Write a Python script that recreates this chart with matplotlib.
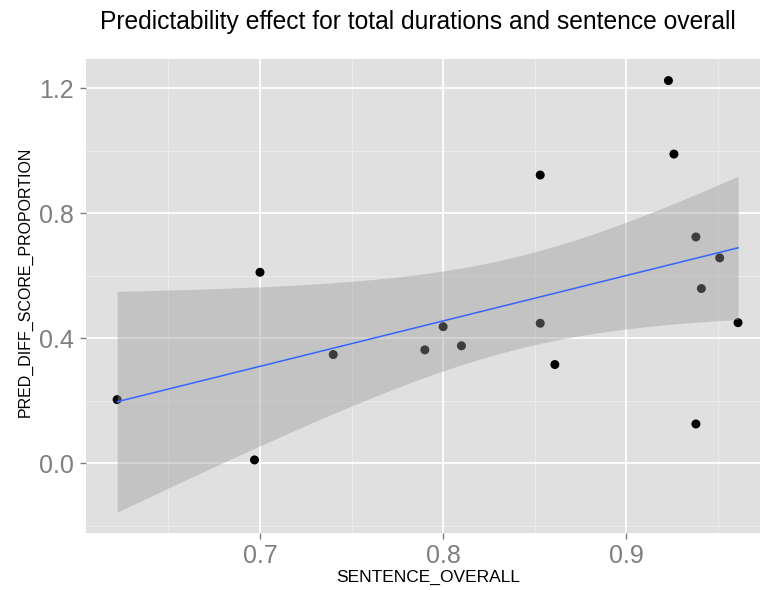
import numpy as np
import matplotlib
matplotlib.use("Agg")
import matplotlib.pyplot as plt

# sentence-level scores vs. predictability effect on total durations
sentence_overall = [0.622, 0.697, 0.700, 0.740, 0.790, 0.800, 0.810, 0.853,
                    0.853, 0.861, 0.923, 0.926, 0.938, 0.938, 0.941, 0.951, 0.961]
pred_diff = [0.204, 0.011, 0.611, 0.348, 0.363, 0.437, 0.376, 0.448,
             0.922, 0.316, 1.224, 0.989, 0.724, 0.126, 0.559, 0.657, 0.450]

x_ticks = [0.7, 0.8, 0.9]
y_ticks = [0.0, 0.4, 0.8, 1.2]
x_minor = [0.65, 0.75, 0.85, 0.95]
y_minor = [-0.2, 0.2, 0.6, 1.0]

x = np.array(sentence_overall)
y = np.array(pred_diff)

# --------------------------------------------------
# linear fit + 95% confidence band (like geom_smooth(method="lm"))
# --------------------------------------------------
n = len(x)
slope, intercept = np.polyfit(x, y, 1)
resid = y - (slope * x + intercept)
s = np.sqrt(np.sum(resid ** 2) / (n - 2))
t_crit = 2.131  # t(0.975, df=15)
xs = np.linspace(x.min(), x.max(), 80)
fit = slope * xs + intercept
se = s * np.sqrt(1.0 / n + (xs - x.mean()) ** 2 / np.sum((x - x.mean()) ** 2))
lower = fit - t_crit * se
upper = fit + t_crit * se

plt.rcParams['font.family'] = ['Liberation Sans', 'DejaVu Sans']

fig = plt.figure(figsize=(7.62, 5.90), dpi=100)
ax = fig.add_axes([86 / 762, 1 - 532.5 / 590, (760 - 86) / 762, (532.5 - 59) / 590])
ax.set_facecolor('#E0E0E0')

for v in x_minor:
    ax.axvline(v, color='#ECECEC', lw=0.6, zorder=0)
for v in y_minor:
    ax.axhline(v, color='#ECECEC', lw=0.6, zorder=0)
for v in x_ticks:
    ax.axvline(v, color='white', lw=1.3, zorder=0)
for v in y_ticks:
    ax.axhline(v, color='white', lw=1.3, zorder=0)

ax.scatter(x, y, s=42, color='black', edgecolor='none', zorder=2)
ax.fill_between(xs, lower, upper, color='#999999', alpha=0.4, lw=0, zorder=3)
ax.plot(xs, fit, color='#3366FF', lw=1.1, zorder=4)

ax.set_xlim(0.605, 0.973)
ax.set_ylim(-0.221, 1.293)
ax.set_xticks(x_ticks)
ax.set_xticklabels([f"{v:.1f}" for v in x_ticks])
ax.set_yticks(y_ticks)
ax.set_yticklabels([f"{v:.1f}" for v in y_ticks])
ax.tick_params(colors='#7F7F7F', labelsize=18, length=4, width=1)
ax.tick_params(axis='y', pad=5)
ax.tick_params(axis='x', pad=4)

for sp in ax.spines.values():
    sp.set_visible(False)

ax.set_xlabel("SENTENCE_OVERALL", fontsize=12.5, va='center')
ax.xaxis.set_label_coords(0.507, -0.095)
ax.set_ylabel("PRED_DIFF_SCORE_PROPORTION", fontsize=11.5, va='center')
ax.yaxis.set_label_coords(-0.09, 0.53)
fig.text(0.548, 0.962, "Predictability effect for total durations and sentence overall",
         ha='center', va='center', fontsize=17.7)

fig.savefig("out.png", dpi=100, facecolor='white')
